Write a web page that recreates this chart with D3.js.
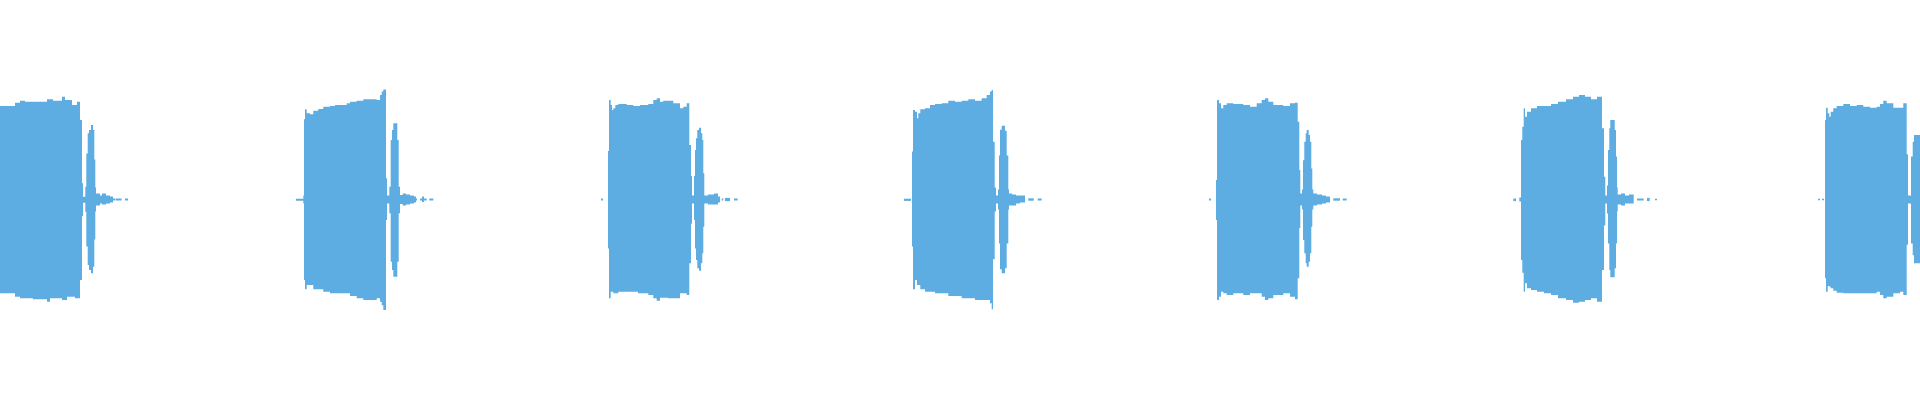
<!DOCTYPE html>
<html>
<head>
<meta charset="utf-8">
<script src="https://cdn.jsdelivr.net/npm/d3@7"></script>
<style>
  html, body { margin: 0; padding: 0; background: #ffffff; }
  svg { display: block; }
</style>
</head>
<body>
<svg id="chart" width="1920" height="400"></svg>
<script>
// Waveform envelope data: each knot = [sample offset from burst start, max amplitude, min amplitude]
// a knot with nulls marks a silent gap
const burstStarts = [0, 304, 608, 912, 1216, 1521, 1825];
const totalSamples = 1920;

const burst1 = [[0,.469,-.470],[15,.485,-.487],[20,.495,-.495],[25,.490,-.495],[33,.490,-.500],[47,.502,-.512],[50,.502,-.495],[53,.495,-.495],[62,.515,-.504],[65,.499,-.504],[67,.499,-.487],[72,.474,-.487],[75,.474,-.495],[77,.490,-.495],
  [80,.398,-.404],[82,.081,-.083],[83,.014,-.016],[85.3,.064,-.061],[86.3,.231,-.236],[87.7,.332,-.328],[89,.348,-.353],[91,.373,-.370],[93,.348,-.337],[94.3,.2,-.2],[95.3,.06,-.06],[96,.03,-.03],[100,.02,-.02],[102,.03,-.025],[106,.02,-.02],[110,.015,-.015],[113,.005,-.005],[115,null,null],[115.5,.005,-.005],[121.5,null,null],[125,.005,-.005],[128,null,null]];

const burst2 = [[-8,.004,-.006],[-0.7,.02,-.02],[0,.402,-.404],[1,.452,-.450],[2.7,.432,-.429],[6,.427,-.429],[9.3,.445,-.450],[14.3,.454,-.450],[19.3,.465,-.462],[26,.469,-.470],[31,.474,-.470],[42.7,.482,-.470],[46,.490,-.484],[52.7,.495,-.495],[59.3,.502,-.504],[72.7,.499,-.495],[76,.524,-.512],[77.7,.541,-.530],[79.3,.552,-.554],
  [82,.106,-.103],[83,.02,-.02],[85.3,.064,-.069],[86.7,.298,-.312],[88,.348,-.353],[89.3,.382,-.387],[93.3,.298,-.312],[94.7,.064,-.069],[96,.023,-.023],[98.7,.03,-.03],[102,.025,-.025],[106,.02,-.02],[110,.015,-.015],[112,.005,-.005],[113,null,null],[116,.005,-.005],[118,.015,-.012],[120,.005,-.005],[122.7,null,null],[125.3,.005,-.005],[129.3,null,null]];

const burst3 = [[-7,.005,-.005],[-5,null,null],[0,.243,-.245],[1,.499,-.495],[2.7,.474,-.462],[4,.449,-.462],[5.3,.457,-.470],[7.3,.474,-.470],[10.3,.479,-.462],[18.7,.474,-.462],[25.3,.469,-.462],[30,.469,-.470],[32,.474,-.470],[40.3,.479,-.479],[45.3,.499,-.495],[48.7,.507,-.507],[52,.490,-.492],[55.3,.495,-.492],[60,.495,-.495],[65.3,.482,-.495],[72,.457,-.470],[75.3,.465,-.470],[78.7,.482,-.479],
  [81.3,.273,-.320],[83,.118,-.121],[84,.02,-.02],[86,.118,-.103],[87,.248,-.245],[88,.307,-.303],[89.3,.348,-.345],[91,.360,-.357],[93,.332,-.320],[94.3,.298,-.27],[95.3,.131,-.136],[96.3,.02,-.02],[100,.025,-.025],[106,.03,-.025],[110,.015,-.015],[112,null,null],[113.7,.005,-.005],[115.3,null,null],[117,.008,-.008],[122,null,null],[126,.005,-.005],[129.7,null,null]];

const burst4 = [[-8,.004,-.007],[-1,null,null],[0,.241,-.236],[1,.449,-.450],[3,.440,-.404],[5,.407,-.429],[6.3,.432,-.429],[8.3,.452,-.450],[13,.457,-.462],[18,.474,-.462],[23,.479,-.470],[29.7,.482,-.470],[36.3,.495,-.484],[43,.490,-.484],[49.7,.495,-.495],[56.3,.502,-.495],[63,.495,-.504],[69.7,.507,-.504],[74.7,.524,-.504],[78,.541,-.520],[79.7,.549,-.550],
  [81,.290,-.300],[82.7,.06,-.06],[84,.02,-.02],[86,.05,-.05],[87,.22,-.22],[88,.35,-.35],[89.7,.37,-.37],[93,.345,-.345],[94.7,.22,-.22],[96.3,.05,-.05],[97,.03,-.03],[100,.025,-.03],[104,.02,-.02],[108,.02,-.015],[113,null,null],[116.3,.006,-.006],[121.7,null,null],[125.7,.005,-.005],[129.7,null,null]];

const burst5 = [[-7,.005,-.005],[-5,null,null],[0,.098,-.103],[1,.499,-.504],[3,.482,-.487],[5,.457,-.462],[7.3,.474,-.470],[10.7,.482,-.479],[17.3,.479,-.470],[27.3,.474,-.479],[34,.465,-.470],[40.7,.482,-.470],[45.7,.499,-.487],[49,.507,-.504],[52.3,.490,-.495],[57.3,.474,-.479],[67.3,.469,-.470],[74,.482,-.487],[79,.485,-.500],
  [81.7,.390,-.395],[83.3,.148,-.143],[84.3,.03,-.03],[86,.05,-.05],[87,.197,-.203],[88.3,.290,-.27],[89.7,.332,-.32],[90.7,.348,-.337],[92.7,.323,-.312],[94,.29,-.27],[95.3,.156,-.136],[96.3,.05,-.05],[97.3,.03,-.03],[101,.025,-.025],[106,.02,-.02],[110,.015,-.015],[114,null,null],[117.3,.006,-.006],[124,null,null],[126.7,.005,-.005],[130.7,null,null]];

const burst6 = [[-7.7,.005,-.008],[-5,null,null],[-1.7,.01,-.01],[0,.298,-.303],[1.3,.365,-.367],[2.7,.457,-.462],[4,.415,-.420],[6,.440,-.445],[10,.457,-.454],[16,.469,-.462],[23,.469,-.470],[30,.479,-.479],[37,.490,-.495],[45,.502,-.504],[52,.515,-.517],[58,.524,-.512],[64,.515,-.504],[70,.502,-.495],[76,.515,-.512],
  [81,.357,-.353],[83,.114,-.13],[84.3,.02,-.02],[86,.07,-.07],[87,.248,-.22],[88.3,.357,-.353],[89.3,.398,-.39],[93.7,.348,-.345],[95,.215,-.22],[96,.06,-.06],[96.7,.025,-.025],[100,.03,-.03],[104,.02,-.02],[108,.025,-.02],[112.7,null,null],[116,.005,-.005],[122.7,null,null],[126,.008,-.008],[128.7,null,null],[134,.004,-.004],[136,null,null]];

const burst7 = [[-7,.004,-.004],[-5,null,null],[-3,.004,-.004],[-1,null,null],[0,.398,-.395],[1,.460,-.462],[2.7,.432,-.434],[4.3,.415,-.437],[5.7,.440,-.445],[8.3,.457,-.457],[11.7,.469,-.467],[18.3,.479,-.470],[25,.469,-.470],[31.7,.474,-.470],[38.3,.465,-.470],[45,.460,-.470],[51.7,.465,-.462],[55,.479,-.479],[58.3,.495,-.495],[61.7,.482,-.487],[68.3,.460,-.470],[75,.460,-.462],[78.3,.482,-.479],
  [81.7,.227,-.227],[83,.02,-.02],[86,.215,-.22],[87.7,.29,-.28],[89,.323,-.32],[96,null,null]];

const bursts = [burst1, burst2, burst3, burst4, burst5, burst6, burst7];

const W = 1920, H = 400;
const svg = d3.select("#chart");
const x = d3.scaleLinear().domain([0, totalSamples]).range([0, W]);
const y = d3.scaleLinear().domain([-1, 1]).range([H - 1, 0]);
const minHalf = 0.0026; // keep near-silent stretches visible as a thin line

// split each burst into contiguous runs of sound
const runs = [];
bursts.forEach((knots, b) => {
  const s = burstStarts[b];
  let cur = null;
  for (let i = 0; i < knots.length; i++) {
    const k = knots[i];
    const pt = { t: s + k[0], top: k[1], bot: k[2] };
    if (k[1] == null) {
      if (cur) { const last = cur[cur.length - 1]; cur.push({ t: pt.t, top: last.top, bot: last.bot }); runs.push(cur); cur = null; }
      continue;
    }
    if (!cur) cur = [];
    cur.push(pt);
  }
  if (cur) { const last = cur[cur.length - 1]; cur.push({ t: last.t + 1, top: last.top, bot: last.bot }); runs.push(cur); }
});

const area = d3.area()
  .x(d => x(d.t))
  .y1(d => y(Math.max(d.top, minHalf)))
  .y0(d => y(Math.min(d.bot, -minHalf)))
  .curve(d3.curveStepAfter);

svg.append("g").selectAll("path").data(runs).join("path")
  .attr("d", area)
  .attr("fill", "#5dade2");
</script>
</body>
</html>
